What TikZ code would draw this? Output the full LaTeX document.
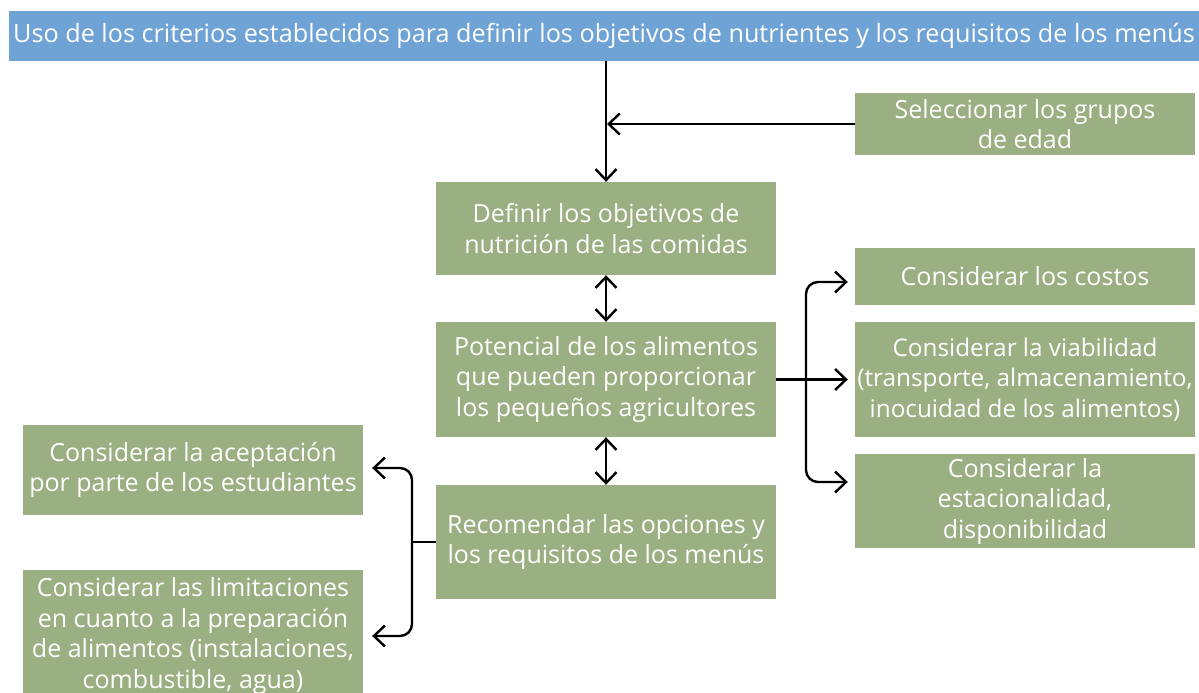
\documentclass[tikz,border=0pt]{standalone}
\usepackage{fontspec}
\setmainfont{Open Sans}
\usetikzlibrary{arrows.meta}
\definecolor{boxgreen}{HTML}{9AAF82}
\definecolor{bannerblue}{HTML}{6FA3D6}
\begin{document}
\begin{tikzpicture}[x=1pt,y=-1pt,
  gbox/.style={fill=boxgreen,text=white,align=center,inner sep=0pt,minimum width=340pt,font=\fontsize{25}{30.5}\selectfont},
  banner/.style={fill=bannerblue,text=white,align=center,inner sep=0pt,minimum width=1190pt,minimum height=50pt,font=\fontsize{25.2}{30}\selectfont},
  tip/.tip={Straight Barb[length=11pt,width=21pt,line width=2.4pt]},
  conn/.style={line width=2.4pt,-tip},
  dconn/.style={line width=2.4pt,tip-tip},
  plain/.style={line width=2.4pt}]
\useasboundingbox (0,0) rectangle (1199,693);
\node[banner] (top) at (604,36) {Uso de los criterios establecidos para definir los objetivos de nutrientes y los requisitos de los menús};
\node[gbox,minimum height=62pt] (sel) at (1025,124) {Seleccionar los grupos\\de edad};
\node[gbox,minimum height=93pt] (def) at (606,228.5) {Definir los objetivos de\\nutrición de las comidas};
\node[gbox,minimum height=115pt] (pot) at (606,379.5) {Potencial de los alimentos\\que pueden proporcionar\\los pequeños agricultores};
\node[gbox,minimum height=114pt] (rec) at (606,542) {Recomendar las opciones y\\los requisitos de los menús};
\node[gbox,minimum height=57pt] (cos) at (1025,276.5) {Considerar los costos};
\node[gbox,minimum height=115pt,font=\fontsize{24.3}{30.5}\selectfont] (via) at (1025,379.5) {Considerar la viabilidad\\(transporte, almacenamiento,\\inocuidad de los alimentos)};
\node[gbox,minimum height=94pt] (est) at (1025,501) {Considerar la\\estacionalidad,\\disponibilidad};
\node[gbox,minimum height=90pt] (ace) at (193,470) {Considerar la aceptación\\por parte de los estudiantes};
\node[gbox,minimum height=132pt] (lim) at (193,636) {Considerar las limitaciones\\en cuanto a la preparación\\de alimentos (instalaciones,\\combustible, agua)};
% connectors
\draw[conn] (def.north |- top.south) -- (def.north);
\draw[conn] (sel.west) -- ([xshift=1pt]def.north |- sel.west);
\draw[dconn] (def.south) -- (pot.north);
\draw[dconn] (pot.south) -- (rec.north);
\coordinate (rj) at (806,379.5);
\coordinate (lj) at (412,542);
\draw[conn,shorten >=7pt] (pot.east) -- (via.west);
\draw[conn,rounded corners=12pt,shorten >=7pt] (rj) |- ([yshift=-5.5pt]cos.west);
\draw[conn,rounded corners=12pt,shorten >=7pt] (rj) |- ([yshift=19pt]est.west);
\draw[plain] (rec.west) -- (lj);
\draw[conn,rounded corners=12pt,shorten >=9pt] (lj) |- ([yshift=2pt]ace.east);
\draw[conn,rounded corners=12pt,shorten >=9pt] (lj) |- ([yshift=0pt]lim.east);
\end{tikzpicture}
\end{document}
